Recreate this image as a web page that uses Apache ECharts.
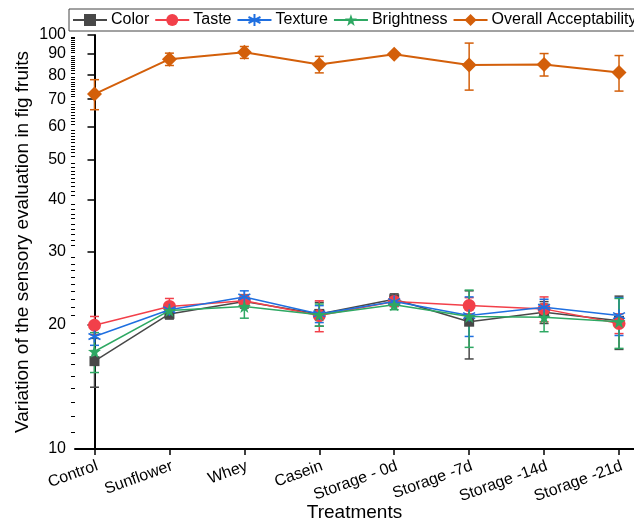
<!DOCTYPE html>
<html>
<head>
<meta charset="utf-8">
<script src="https://cdn.jsdelivr.net/npm/echarts@6/dist/echarts.min.js"></script>
<style>
  html, body { margin: 0; padding: 0; background: #fff; }
  #main { width: 634px; height: 522px; }
</style>
</head>
<body>
<div id="main"></div>
<script>
// categories on the x axis
const categories = ['Control', 'Sunflower', 'Whey', 'Casein', 'Storage - 0d', 'Storage -7d', 'Storage -14d', 'Storage -21d'];

// means and error (+/-)
const colorMean = [16.3, 21.2, 22.7, 21.2, 23.0, 20.3, 21.4, 20.4];
const colorErr = [2.2, 0.6, 0.8, 1.4, 0.7, 3.8, 1.3, 3.0];
const tasteMean = [19.9, 22.1, 22.8, 21.0, 22.7, 22.2, 21.8, 20.1];
const tasteErr = [1.0, 1.0, 0.8, 1.8, 0.6, 1.0, 1.5, 1.1];
const textureMean = [18.7, 21.7, 23.3, 21.2, 22.7, 21.0, 22.0, 21.0];
const textureErr = [0.9, 0.6, 0.8, 1.0, 0.6, 2.3, 1.0, 2.2];
const brightMean = [17.2, 21.6, 22.1, 21.1, 22.3, 20.9, 20.8, 20.3];
const brightErr = [1.9, 0.8, 1.4, 1.3, 0.6, 3.3, 1.6, 2.8];
const overallMean = [72.0, 87.4, 90.8, 84.9, 89.8, 84.6, 84.9, 81.2];
const overallErr = [6.0, 3.0, 3.0, 3.9, 0.8, 11.0, 5.3, 8.0];

// y axis tick labels
const yTicks = [10, 20, 30, 40, 50, 60, 70, 80, 90, 100];
const xTicks = [0, 1, 2, 3, 4, 5, 6, 7];

// minor ticks every unit between the labelled ones
const yMinor = [];
for (let v = 11; v < 100; v++) { if (v % 10 !== 0) yMinor.push(v); }

const FONT = 'Liberation Sans, Arial, sans-serif';
const asterisk = 'path://M10,0 L10,20 M1.34,5 L18.66,15 M1.34,15 L18.66,5';

const seriesDefs = [
  { name: 'Color', mean: colorMean, err: colorErr, color: '#484848', symbol: 'rect', size: 10 },
  { name: 'Taste', mean: tasteMean, err: tasteErr, color: '#F2404A', symbol: 'circle', size: 13 },
  { name: 'Texture', mean: textureMean, err: textureErr, color: '#1F6FE0', symbol: asterisk, size: 12 },
  { name: 'Brightness', mean: brightMean, err: brightErr, color: '#2EA863', symbol: 'path://M10,0 L12.35,6.76 L19.51,6.91 L13.8,11.24 L15.88,18.09 L10,14 L4.12,18.09 L6.2,11.24 L0.49,6.91 L7.65,6.76 Z', size: 13 },
  { name: 'Overall Acceptability', mean: overallMean, err: overallErr, color: '#D35F0A', symbol: 'diamond', size: 15 }
];

function errorBar(def, idx) {
  return {
    type: 'custom',
    name: def.name + ' error',
    z: 2 + idx,
    silent: true,
    coordinateSystem: 'cartesian2d',
    encode: { x: 0, y: [1, 2] },
    data: def.mean.map((m, i) => [i, m - def.err[i], m + def.err[i]]),
    renderItem: function (params, api) {
      const lo = api.coord([api.value(0), api.value(1)]);
      const hi = api.coord([api.value(0), api.value(2)]);
      const half = 4.5;
      const style = { stroke: def.color, lineWidth: 1.5 };
      return {
        type: 'group',
        children: [
          { type: 'line', shape: { x1: lo[0], y1: lo[1], x2: hi[0], y2: hi[1] }, style: style },
          { type: 'line', shape: { x1: lo[0] - half, y1: lo[1], x2: lo[0] + half, y2: lo[1] }, style: style },
          { type: 'line', shape: { x1: hi[0] - half, y1: hi[1], x2: hi[0] + half, y2: hi[1] }, style: style }
        ]
      };
    }
  };
}

const series = [];
seriesDefs.forEach((def, idx) => {
  series.push(errorBar(def, idx));
  series.push({
    type: 'line',
    name: def.name,
    color: def.color,
    z: 10 + idx,
    data: def.mean.map((m, i) => [i, m]),
    symbol: def.symbol,
    symbolSize: def.size,
    showAllSymbol: true,
    lineStyle: { color: def.color, width: idx === 4 ? 2 : 1.5 },
    itemStyle: def.symbol === asterisk
      ? { color: def.color, borderColor: def.color, borderWidth: 1.6 }
      : { color: def.color },
    emphasis: { disabled: true }
  });
});

const chart = echarts.init(document.getElementById('main'));
chart.setOption({
  backgroundColor: '#fff',
  animation: false,
  textStyle: { fontFamily: FONT },
  legend: {
    data: seriesDefs.map(d => d.name),
    left: 69,
    top: 9,
    width: 900,
    padding: [3, 40, 3, 3],
    itemWidth: 34,
    itemHeight: 15,
    itemGap: 5,
    borderColor: '#444',
    borderWidth: 1,
    textStyle: { fontFamily: FONT, fontSize: 16, color: '#000', padding: [0, 0, 0, -1] }
  },
  grid: { left: 75, right: 0, top: 35, bottom: 73, outerBoundsMode: 'none' },
  xAxis: {
    type: 'value',
    min: -0.26,
    max: 7.2,
    name: 'Treatments',
    nameLocation: 'middle',
    nameGap: 54,
    nameMoveOverlap: false,
    nameTextStyle: { fontFamily: FONT, fontSize: 19, color: '#000' },
    splitLine: { show: false },
    axisLine: { lineStyle: { color: '#000', width: 2 } },
    axisTick: { customValues: xTicks, length: 6, lineStyle: { color: '#000', width: 1.5 } },
    axisLabel: {
      customValues: xTicks,
      rotate: 20,
      margin: 9,
      verticalAlign: 'top',
      fontFamily: FONT,
      fontSize: 16,
      color: '#000',
      formatter: v => categories[v]
    }
  },
  yAxis: [
    {
      type: 'log',
      min: 10,
      max: 100,
      name: 'Variation of the sensory evaluation in fig fruits',
      nameLocation: 'middle',
      nameGap: 43,
      nameMoveOverlap: false,
      nameTextStyle: { fontFamily: FONT, fontSize: 19, color: '#000' },
      splitLine: { show: false },
      axisLine: { lineStyle: { color: '#000', width: 2 } },
      axisTick: { customValues: yTicks, length: 7, lineStyle: { color: '#000', width: 1.5 } },
      axisLabel: { customValues: yTicks, margin: 9, fontFamily: FONT, fontSize: 16, color: '#000' }
    },
    {
      type: 'log',
      min: 10,
      max: 100,
      position: 'left',
      splitLine: { show: false },
      axisLine: { show: false },
      axisTick: { show: true, customValues: yMinor, length: 4, lineStyle: { color: '#000', width: 1 } },
      axisLabel: { show: false }
    }
  ],
  series: series
});
</script>
</body>
</html>
